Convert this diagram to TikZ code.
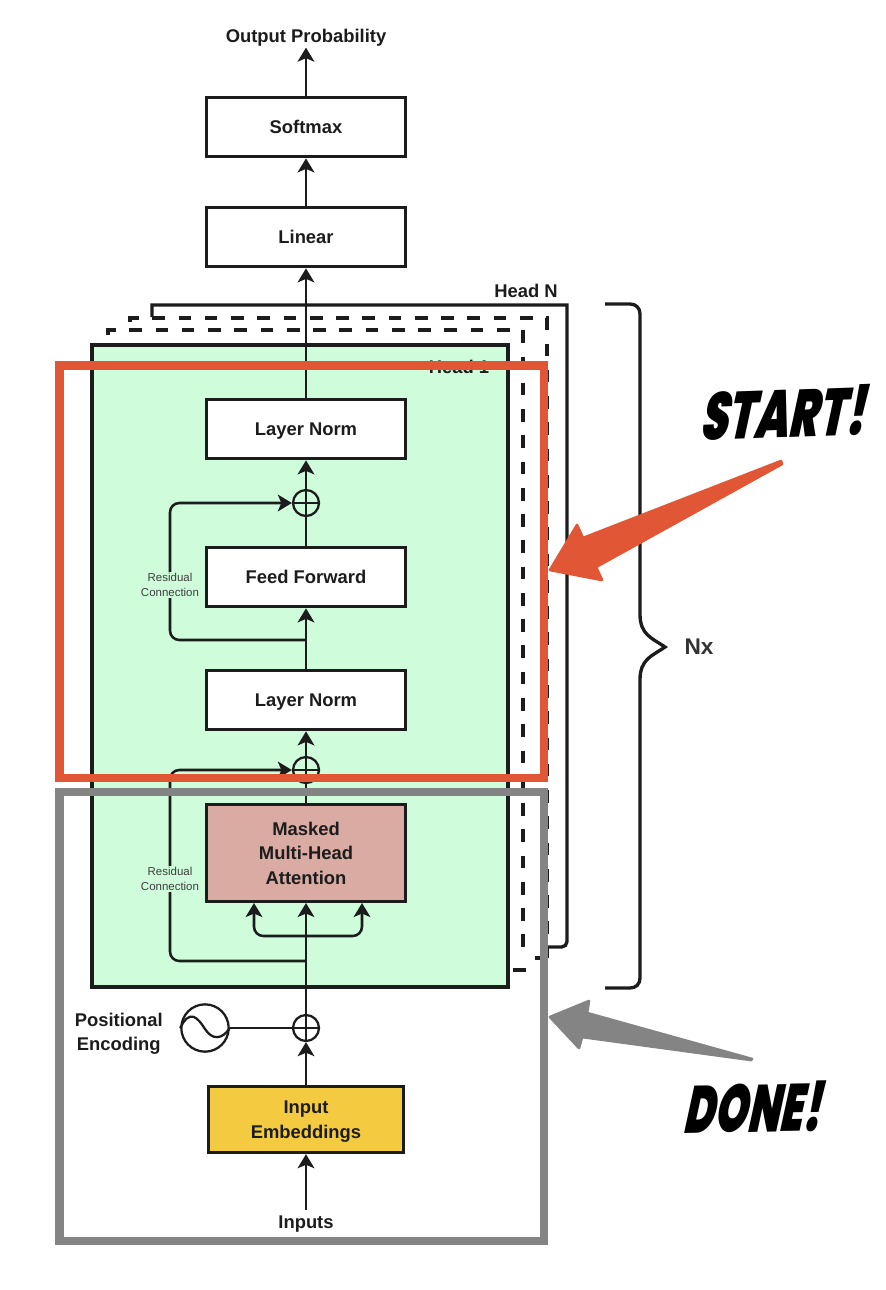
\documentclass[tikz,border=0pt]{standalone}
\usepackage{graphicx}
\usepackage{fontspec}
\setmainfont{Liberation Sans}
\newfontfamily\shoutfont[FakeSlant=0.25,FakeStretch=0.66]{Poppins Black}
\usetikzlibrary{arrows.meta,positioning,calc}
\definecolor{inkc}{HTML}{1C1C1C}
\definecolor{headc}{HTML}{CFFCDB}
\definecolor{attc}{HTML}{D9ABA3}
\definecolor{embc}{HTML}{F4CB40}
\definecolor{redc}{HTML}{E15634}
\definecolor{grayc}{HTML}{848484}

\begin{document}
\begin{tikzpicture}[x=0.75pt,y=-0.75pt,
    lab/.style={font=\fontsize{13.8}{18.4}\selectfont\bfseries,text=inkc,align=center,inner sep=0pt,text depth=0pt},
    blockbox/.style={lab,draw=inkc,fill=white,line width=2.5pt,minimum width=149.5pt,minimum height=44.5pt},
    flow/.style={draw=inkc,line width=1.9pt,-{Stealth[length=10.5pt,width=12.5pt,inset=2.6pt]}},
    wire/.style={draw=inkc,line width=1.9pt},
    plusnode/.style={circle,draw=inkc,line width=1.7pt,minimum size=19.5pt,inner sep=0pt,
      path picture={\draw[inkc,line width=1.4pt] (path picture bounding box.north) -- (path picture bounding box.south)
        (path picture bounding box.west) -- (path picture bounding box.east);}},
    residual/.style={font=\fontsize{8.6}{11.7}\selectfont,text=inkc!85,align=center,fill=headc,inner sep=1pt},
    headline/.style={draw=inkc,line width=2.5pt},
    dashline/.style={headline,dash pattern=on 9.5pt off 10.2pt},
    marker/.style={draw=#1,line width=6.6pt},
    shout/.style={font=\fontsize{50}{50}\selectfont\shoutfont,text=black,inner sep=0pt}]
  \useasboundingbox (0,0) rectangle (886,1290);

  % stacked heads
  \draw[headline] (152,317) -- (152,305) -- (567,305) [rounded corners=4pt] -- (567,947) -- (545,947);
  \draw[dashline] (130,322) -- (130,318) -- (547,318) -- (547,958);
  \draw[dashline] (108,335) -- (108,330) -- (523,330) -- (523,960);
  \draw[headline] (541,958) -- (535,958);
  \draw[headline] (526,970) -- (513,970);
  \node[draw=inkc,fill=headc,line width=2.5pt,minimum width=312pt,minimum height=481.5pt,inner sep=0pt] (H1) at (300,666) {};
  \node[lab] (HL1) at (459,367) {Head 1};
  \node[lab] (HLN) at (526,291) {Head N};

  % blocks
  \foreach \n/\y/\t in {Soft/127/Softmax,Lin/237/Linear,N1/429/Layer Norm,FF/577/Feed Forward,N2/700/Layer Norm} {
    \node[blockbox] (\n) at (306,\y) {\t};
  }
  \node[blockbox,fill=attc,minimum height=72.5pt] (Att) at (306,853) {Masked\\Multi-Head\\Attention};
  \node[blockbox,fill=embc,minimum width=146.5pt,minimum height=49.5pt] (Emb) at (306,1119.5) {Input\\Embeddings};
  \node[lab] (Out) at (306,36) {Output Probability};
  \node[lab] (Inp) at (306,1222) {Inputs};
  \node[lab,anchor=east] (Pos) at (163,1032) {Positional\\Encoding};

  \node[plusnode] (P1) at (306,503) {};
  \node[plusnode] (P2) at (306,770) {};
  \node[plusnode] (P3) at (306,1028) {};
  \node[circle,draw=inkc,line width=1.7pt,minimum size=35.5pt,inner sep=0pt] (Sin) at (205,1028) {};
  \draw[inkc,line width=1.7pt] (Sin.west) .. controls (190,1008) and (198,1018) .. (205,1029) .. controls (212,1040) and (222,1040) .. (Sin.east);

  % connectors
  \coordinate (J1) at (306,640);
  \coordinate (J2) at (306,961);
  \coordinate (J3) at (306,936);
  \coordinate (A1) at (254,903);
  \coordinate (A2) at (362,903);
  \foreach \a/\b in {Lin/Soft,N1/Lin,P1/N1,N2/FF,P2/N2,Emb/P3,P3/Att} {
    \draw[flow] (\a) -- (\b);
  }
  \draw[flow,shorten >=3.5pt] (Soft) -- (Out);
  \draw[flow,shorten <=4pt] (Inp) -- (Emb);
  \draw[wire] (FF) -- (P1);
  \draw[wire] (Att) -- (P2);
  \draw[wire] (Sin.east) -- (P3.west);
  \draw[flow,rounded corners=7pt] (J1) -- (170,640) -- (170,503) -- (P1.west);
  \draw[flow,rounded corners=7pt] (J2) -- (170,961) -- (170,770) -- (P2.west);
  \draw[flow,rounded corners=7pt] (J3) -- (254,936) -- (A1);
  \draw[flow,rounded corners=7pt] (J3) -- (362,936) -- (A2);
  \node[residual] (R1) at (170,585) {Residual\\Connection};
  \node[residual] (R2) at (170,879) {Residual\\Connection};

  % markers
  \draw[marker=redc] (59.5,365.5) rectangle (544,778);
  \draw[marker=grayc] (59.5,792) rectangle (544,1241);

  \node[lab,font=\fontsize{17}{20}\selectfont\bfseries,text=inkc!90] (Nx) at (699,647) {Nx};
  \draw[inkc,line width=2.5pt] (605,304) -- (630,304) .. controls (636,304) and (640,308) .. (640,314) -- (640,614)
    .. controls (640,635) and (652,638) .. (665,647) .. controls (652,656) and (640,659) .. (640,680) -- (640,978)
    .. controls (640,984) and (636,988) .. (630,988) -- (605,988);

  \fill[redc,draw=redc,line width=2pt,line join=round] (781,461) -- (583,538) -- (577,525) -- (550,570) -- (602,580) -- (596,567) -- (782,464) -- cycle;
  \fill[grayc,draw=grayc,line width=2pt,line join=round] (752,1059) -- (587,1013) -- (589,1001) -- (550,1017) -- (579,1048) -- (582,1037) -- (751,1060) -- cycle;

  \node[shout,rotate=2] (Start) at (781,413) {START!};
  \node[shout,rotate=1] (Done) at (751,1107) {\scalebox{.94}[1]{DONE!}};
\end{tikzpicture}
\end{document}
